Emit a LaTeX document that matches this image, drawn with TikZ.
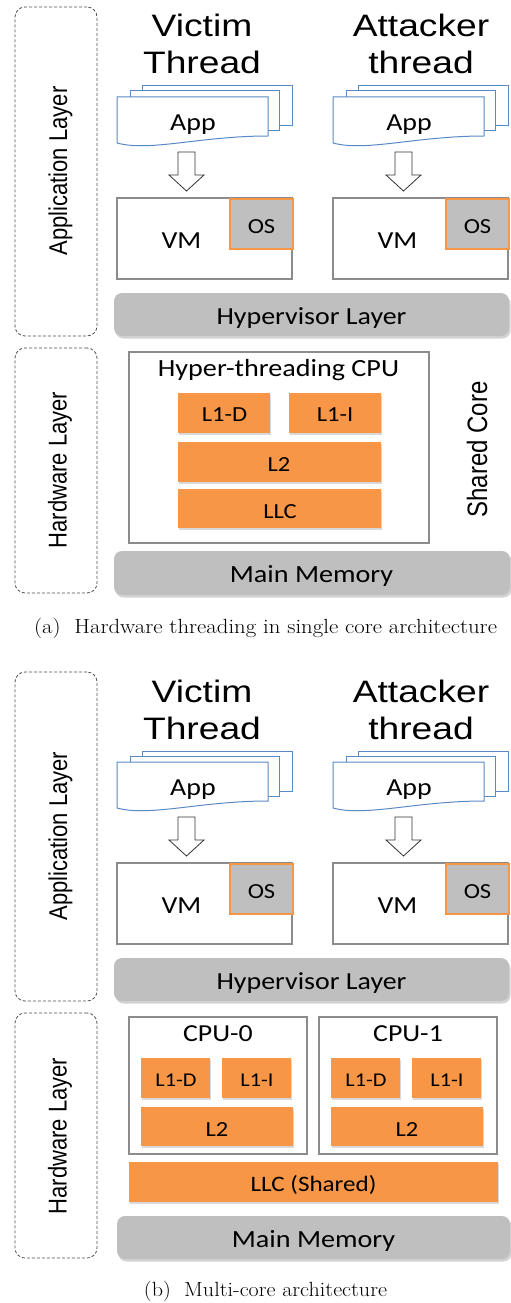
\documentclass[tikz,border=0pt]{standalone}
\usepackage{fontspec}
\usepackage{graphicx}
\usetikzlibrary{shadows}
\newfontfamily\arialw[FakeStretch=1.2]{Liberation Sans}
\newfontfamily\arialn{Liberation Sans}
\newfontfamily\calw[FakeStretch=1.14]{Carlito}
\definecolor{orng}{HTML}{F79646}
\definecolor{gfill}{HTML}{BFBFBF}
\definecolor{docblue}{HTML}{5A8AC6}
\definecolor{vmgray}{HTML}{8C8C8C}
\definecolor{dashgray}{HTML}{505050}
\newcommand{\bx}[6]{\node[#6, anchor=north west, minimum width={((#4)-(#2))*1pt}, minimum height={((#5)-(#3))*1pt}] (#1) at (#2,#3) {};}
\tikzset{
 every node/.style={inner sep=0pt, outer sep=0pt},
 layerbox/.style={rectangle, draw=dashgray, line width=0.8pt, dash pattern=on 3pt off 2pt, rounded corners=10pt},
 vmbox/.style={rectangle, draw=vmgray, line width=1.3pt, fill=white},
 osbox/.style={rectangle, draw=orng, line width=1.3pt, fill=gfill},
 barbox/.style={rectangle, fill=gfill, rounded corners=8pt, drop shadow={shadow xshift=1.5pt, shadow yshift=-2.5pt, opacity=0.35, fill=gray}},
 cachebox/.style={rectangle, fill=orng, drop shadow={shadow xshift=1.2pt, shadow yshift=-1.5pt, opacity=0.3, fill=gray}},
 cpubox/.style={rectangle, draw=vmgray, line width=1.3pt, fill=white},
 doc/.style={draw=docblue, line width=1pt, fill=white},
 blockarrow/.style={draw=black!80, line width=0.8pt, fill=white},
 bigtxt/.style={font=\arialw\fontsize{31}{37}\selectfont, align=center},
 lbl/.style={font=\calw\fontsize{#1}{#1}\selectfont},
 vlbl/.style={rotate=90, font=\arialn\fontsize{#1}{#1}\selectfont},
}
\begin{document}
\begin{tikzpicture}[x=1pt,y=-1pt]
\useasboundingbox (0,0) rectangle (511,1303);
% ---------- application part (a) and (b) ----------
\foreach \s/\off in {a/0,b/665}{
  \bx{applayer-\s}{15}{7+\off}{97}{336+\off}{layerbox}
  \node[vlbl=22] (applbl-\s) at (60.5,171+\off) {\scalebox{1}[1.17]{Application Layer}};
  \node[bigtxt, anchor=base] (vict-\s) at (202,74+\off) {Victim\\Thread};
  \node[bigtxt, anchor=base] (att-\s) at (421,74+\off) {Attacker\\thread};
  \foreach \side/\dx/\ax in {L/0/186.5, R/216/403.5}{
    \draw[doc] (142+\dx,86+\off) rectangle (292+\dx,126+\off);
    \draw[doc] (130+\dx,91+\off) rectangle (279+\dx,131+\off);
    \draw[doc] (117+\dx,97+\off) -- (268+\dx,97+\off) -- (268+\dx,136+\off)
       .. controls (200+\dx,136+\off) and (150+\dx,152+\off) .. (117+\dx,143+\off) -- cycle;
    \node[lbl=24.5, anchor=base] (app\side-\s) at (193+\dx,130.7+\off) {App};
    \draw[blockarrow] (\ax-8.5,152+\off) -- (\ax+8.5,152+\off) -- (\ax+8.5,175+\off)
       -- (\ax+17.5,175+\off) -- (\ax,191+\off) -- (\ax-17.5,175+\off)
       -- (\ax-8.5,175+\off) -- cycle;
    \bx{vm\side-\s}{117+\dx}{198+\off}{292+\dx}{279+\off}{vmbox}
    \bx{os\side-\s}{230+\dx}{199+\off}{293+\dx}{249+\off}{osbox}
    \node[lbl=24.5, anchor=base] (vmlbl\side-\s) at (181.5+\dx,248.3+\off) {VM};
    \node[lbl=21.5, anchor=base] (oslbl\side-\s) at (261.5+\dx,233.3+\off) {OS};
  }
  \bx{hyp-\s}{114}{293+\off}{509}{336+\off}{barbox}
  \node[lbl=24.5, anchor=base] (hyplbl-\s) at (311.5,324+\off) {Hypervisor Layer};
}
% ---------- hardware part (a) ----------
\bx{hwlayer-a}{15}{348}{97}{593}{layerbox}
\node[vlbl=22] (hwlbl-a) at (60,470) {\scalebox{1}[1.17]{Hardware Layer}};
\bx{cpu-a}{129}{352}{429}{543}{cpubox}
\node[lbl=24.7, anchor=base] (cpulbl-a) at (278.5,376.7) {Hyper-threading CPU};
\bx{l1d-a}{178}{393}{270}{433}{cachebox}
\bx{l1i-a}{289}{393}{381}{433}{cachebox}
\bx{l2-a}{178}{442}{381}{482}{cachebox}
\bx{llc-a}{178}{489}{381}{528}{cachebox}
\node[lbl=21.5, anchor=base] (l1dlbl-a) at (224.5,421.7) {L1-D};
\node[lbl=21.5, anchor=base] (l1ilbl-a) at (335,421.7) {L1-I};
\node[lbl=21.5, anchor=base] (l2lbl-a) at (279,471.7) {L2};
\node[lbl=21.5, anchor=base] (llclbl-a) at (280,518.3) {LLC};
\node[vlbl=24] (shared) at (477,449.5) {\scalebox{1}[1.17]{Shared Core}};
\bx{mem-a}{114}{551}{510}{595}{barbox}
\node[lbl=24.7, anchor=base] (memlbl-a) at (311.5,582.7) {Main Memory};
\node[anchor=base] (cap-a) at (265.5,633.3) {\resizebox{463pt}{\height}{\fontsize{20.5}{24}\selectfont (a)\ \ Hardware threading in single core architecture}};
% ---------- hardware part (b) ----------
\bx{hwlayer-b}{15}{1013}{97}{1258}{layerbox}
\node[vlbl=22] (hwlbl-b) at (60,1136) {\scalebox{1}[1.17]{Hardware Layer}};
\foreach \c/\dx/\cx in {0/0/218, 1/190/408}{
  \bx{cpu\c}{129+\dx}{1017}{307+\dx}{1154}{cpubox}
  \node[lbl=24.4, anchor=base] (cpulbl\c) at (\cx,1041.7) {CPU-\c};
  \bx{l1d\c}{141+\dx}{1058}{210+\dx}{1098}{cachebox}
  \bx{l1i\c}{222+\dx}{1058}{291+\dx}{1098}{cachebox}
  \bx{l2\c}{141+\dx}{1107}{293+\dx}{1146}{cachebox}
  \node[lbl=19.5, anchor=base] (l1dlbl\c) at (176+\dx,1086.7) {L1-D};
  \node[lbl=19.5, anchor=base] (l1ilbl\c) at (257+\dx,1086.7) {L1-I};
  \node[lbl=21.5, anchor=base] (l2lbl\c) at (217+\dx,1136) {L2};
}
\bx{llc-b}{129}{1162}{498}{1202}{cachebox}
\node[lbl=22, anchor=base] (llclbl-b) at (313.5,1191) {LLC (Shared)};
\bx{mem-b}{117}{1216}{510}{1259}{barbox}
\node[lbl=24.7, anchor=base] (memlbl-b) at (313.5,1247.3) {Main Memory};
\node[anchor=base] (cap-b) at (265.5,1296.7) {\resizebox{243pt}{\height}{\fontsize{20.5}{24}\selectfont (b)\ \ Multi-core architecture}};
\end{tikzpicture}
\end{document}
